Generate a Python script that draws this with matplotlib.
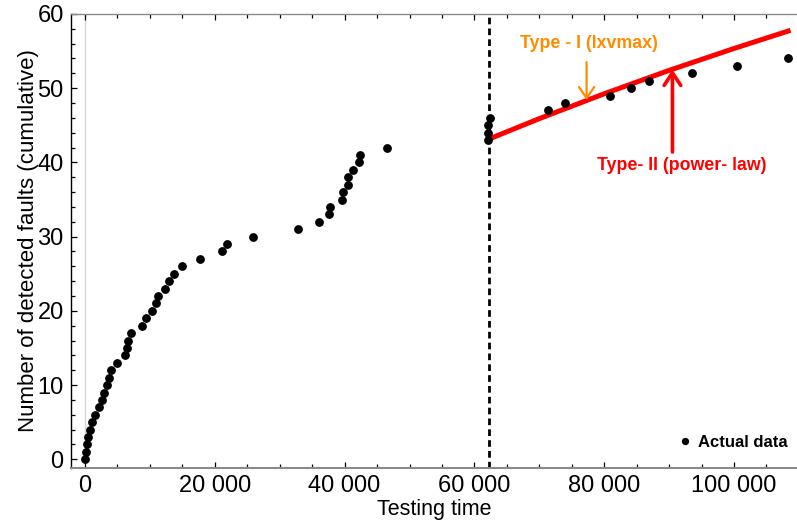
import matplotlib
matplotlib.use("Agg")
import matplotlib.pyplot as plt
from matplotlib.ticker import MultipleLocator, FuncFormatter

# data
faults = list(range(0, 55))
test_time = [0, 100, 260, 510, 770, 1120, 1490, 2110, 2660, 2970,
             3380, 3690, 4000, 4920, 6150, 6460, 6570, 7120, 8720, 9380,
             10260, 10920, 11180, 12350, 12920, 13650, 14920, 17650, 21120, 21950,
             25880, 32770, 36000, 37540, 37740, 39650, 39800, 40460, 40510, 41280,
             42150, 42350, 46510, 62120, 62150, 62150, 62420, 71380, 73950, 80880,
             84200, 86920, 93580, 100460, 108350]

# fitted power-law curve (Type II)
fit_time = [62100, 70000, 80000, 90000, 100000, 108700]
fit_faults = [43.1, 45.9, 49.25, 52.4, 55.35, 57.8]

split_time = 62200

plt.rcParams["font.family"] = ["Liberation Sans", "DejaVu Sans"]

fig = plt.figure(figsize=(7.97, 5.29), dpi=100)
ax = fig.add_axes([0.0887, 0.1159, 0.9113, 0.8577])

ax.axvline(0, color="#d4d4d4", lw=1, zorder=0)
ax.axvline(split_time, color="black", lw=2, linestyle=(0, (2.4, 1.5)), zorder=1)

ax.plot(fit_time, fit_faults, color="red", lw=3.6, solid_capstyle="butt", zorder=2)
ax.plot(test_time, faults, "o", color="black", markersize=5.3, zorder=3,
        label="Actual data", clip_on=False)

ax.set_xlim(-2200, 109700)
ax.set_ylim(-1.13, 60)

# annotations
ax.annotate("", xy=(77280, 48.4), xytext=(77280, 53.5),
            arrowprops=dict(arrowstyle="->,head_length=0.8,head_width=0.55",
                            color="#ff8c00", lw=1.6, mutation_scale=10,
                            shrinkA=0, shrinkB=0))
ax.text(77590, 56.05, "Type - I (lxvmax)", color="#ff8c00", fontsize=12.8,
        fontweight="bold", ha="center", va="center")

ax.annotate("", xy=(90510, 52.5), xytext=(90510, 41.4),
            arrowprops=dict(arrowstyle="->,head_length=0.9,head_width=0.6",
                            color="red", lw=2.6, mutation_scale=10,
                            shrinkA=0, shrinkB=0))
ax.text(91920, 39.6, "Type- II (power- law)", color="red", fontsize=12.8,
        fontweight="bold", ha="center", va="center")

leg = ax.legend(loc="lower left", bbox_to_anchor=(0.828, 0.02), frameon=False,
                handlelength=0.6, handletextpad=0.45, borderpad=0, markerscale=0.8,
                prop={"weight": "bold", "size": 12})

# axes styling
ax.spines["right"].set_visible(False)
ax.spines["left"].set_color("black")
ax.spines["left"].set_linewidth(1.0)
ax.spines["bottom"].set_color("#8a8a8a")
ax.spines["bottom"].set_linewidth(1.5)
ax.spines["top"].set_color("#8a8a8a")
ax.spines["top"].set_linewidth(1.0)

ax.xaxis.set_major_locator(MultipleLocator(20000))
ax.xaxis.set_minor_locator(MultipleLocator(5000))
ax.yaxis.set_major_locator(MultipleLocator(10))
ax.yaxis.set_minor_locator(MultipleLocator(2))
ax.xaxis.set_major_formatter(FuncFormatter(lambda v, p: f"{int(v):,}".replace(",", " ")))

ax.tick_params(axis="both", which="both", direction="in", top=True, right=False,
               color="black", width=0.9, labelsize=17)
ax.tick_params(which="major", length=4.5)
ax.tick_params(which="minor", length=3.2)
ax.tick_params(axis="x", pad=5)
ax.tick_params(axis="y", pad=5)

ax.set_xlabel("Testing time", fontsize=15.5, labelpad=2)
ax.set_ylabel("Number of detected faults (cumulative)", fontsize=16, labelpad=-1)

fig.savefig("out.png", dpi=100)
